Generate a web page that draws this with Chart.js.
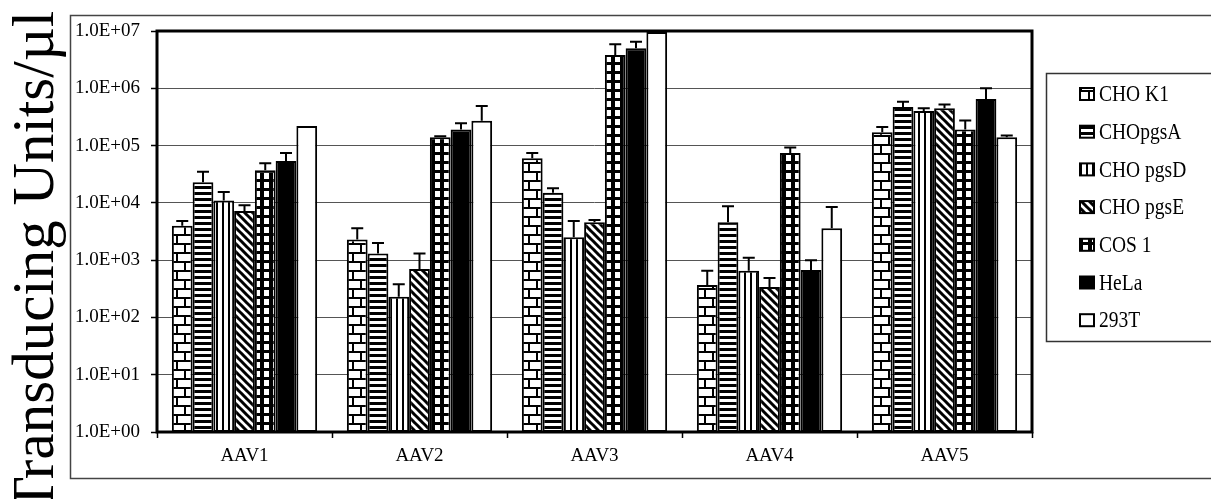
<!DOCTYPE html>
<html>
<head>
<meta charset="utf-8">
<script src="https://cdn.jsdelivr.net/npm/chart.js@4"></script>
<style>
  html, body { margin: 0; padding: 0; background: #fff; }
  #wrap { width: 1211px; height: 499px; }
</style>
</head>
<body>
<div id="wrap"><canvas id="chart" width="1211" height="499"></canvas></div>
<script>
// categories and series names
const labels = ['AAV1', 'AAV2', 'AAV3', 'AAV4', 'AAV5'];
const seriesNames = ['CHO K1', 'CHOpgsA', 'CHO pgsD', 'CHO pgsE', 'COS 1', 'HeLa', '293T'];

// bar values (transducing units / ul)
const choK1 = [4.0e3, 2.3e3, 6.0e4, 3.7e2, 1.7e5];
const choPgsA = [2.3e4, 1.3e3, 1.5e4, 4.6e3, 4.7e5];
const choPgsD = [1.1e4, 2.3e2, 2.5e3, 6.5e2, 4.0e5];
const choPgsE = [7.2e3, 7.0e2, 4.6e3, 3.4e2, 4.5e5];
const cos1 = [3.7e4, 1.4e5, 3.8e6, 7.4e4, 1.9e5];
const hela = [5.4e4, 1.9e5, 5.0e6, 6.7e2, 6.5e5];
const t293 = [2.2e5, 2.7e5, 9.6e6, 3.6e3, 1.4e5];

// top of the error bar for each bar (null = no error bar)
const choK1Err = [4.8e3, 3.6e3, 7.4e4, 6.5e2, 2.1e5];
const choPgsAErr = [3.5e4, 2.0e3, 1.8e4, 8.7e3, 5.8e5];
const choPgsDErr = [1.55e4, 3.8e2, 4.8e3, 1.1e3, 4.5e5];
const choPgsEErr = [9.1e3, 1.3e3, 5.0e3, 4.9e2, 5.2e5];
const cos1Err = [4.9e4, 1.45e5, 5.9e6, 9.3e4, 2.75e5];
const helaErr = [7.4e4, 2.45e5, 6.5e6, 1.0e3, 1.0e6];
const t293Err = [null, 4.9e5, null, 8.5e3, 1.5e5];

// y tick values (decades)
const yTicks = [1, 10, 100, 1e3, 1e4, 1e5, 1e6, 1e7];

const seriesValues = [choK1, choPgsA, choPgsD, choPgsE, cos1, hela, t293];
const seriesErrors = [choK1Err, choPgsAErr, choPgsDErr, choPgsEErr, cos1Err, helaErr, t293Err];
const patternTypes = ['brick', 'hlines', 'vlines', 'diag', 'grid', 'solid', 'white'];

// build a fill pattern for the black & white hatch styles
function makePattern(type) {
    if (type === 'solid') return '#000';
    if (type === 'white') return '#fff';
    const c = document.createElement('canvas');
    const g = c.getContext('2d');
    if (type === 'brick') {
        c.width = 16; c.height = 18;
        g.fillStyle = '#fff'; g.fillRect(0, 0, 16, 18);
        g.fillStyle = '#000';
        g.fillRect(0, 0, 16, 2);
        g.fillRect(0, 9, 16, 2);
        g.fillRect(0, 0, 2, 9);
        g.fillRect(8, 9, 2, 9);
    } else if (type === 'hlines') {
        c.width = 6; c.height = 6;
        g.fillStyle = '#fff'; g.fillRect(0, 0, 6, 6);
        g.fillStyle = '#000'; g.fillRect(0, 0, 6, 3);
    } else if (type === 'vlines') {
        c.width = 6; c.height = 6;
        g.fillStyle = '#fff'; g.fillRect(0, 0, 6, 6);
        g.fillStyle = '#000'; g.fillRect(0, 0, 2, 6);
    } else if (type === 'diag') {
        c.width = 8; c.height = 8;
        g.fillStyle = '#fff'; g.fillRect(0, 0, 8, 8);
        g.strokeStyle = '#000'; g.lineWidth = 3;
        g.beginPath();
        for (let k = -1; k <= 1; k++) {
            g.moveTo(k * 8 - 1, -1);
            g.lineTo(k * 8 + 9, 9);
        }
        g.stroke();
    } else if (type === 'grid') {
        c.width = 9; c.height = 9;
        g.fillStyle = '#000'; g.fillRect(0, 0, 9, 9);
        g.fillStyle = '#fff'; g.fillRect(3, 2, 5, 6);
    }
    return g.createPattern(c, 'repeat');
}

const fills = patternTypes.map(makePattern);

const datasets = seriesNames.map((name, i) => ({
    label: name,
    data: seriesValues[i],
    errTop: seriesErrors[i],
    backgroundColor: fills[i],
    borderColor: '#000',
    borderWidth: 2,
    borderSkipped: false,
    categoryPercentage: 0.83,
    barPercentage: 1.0
}));

function fmtTick(v) {
    const e = Math.round(Math.log10(v));
    return '1.0E+' + String(e).padStart(2, '0');
}

// background, outer frame and the big rotated y title
const framePlugin = {
    id: 'frame',
    beforeDraw(chart) {
        const ctx = chart.ctx;
        ctx.save();
        ctx.fillStyle = '#fff';
        ctx.fillRect(0, 0, chart.width, chart.height);
        ctx.strokeStyle = '#444';
        ctx.lineWidth = 1.5;
        ctx.strokeRect(70.5, 15.5, 1160, 463);
        ctx.translate(53, 262);
        ctx.rotate(-Math.PI / 2);
        ctx.fillStyle = '#000';
        ctx.font = '59px "Liberation Serif"';
        ctx.textAlign = 'center';
        ctx.textBaseline = 'alphabetic';
        ctx.fillText('Transducing Units/\u00b5l', 0, 0);
        ctx.restore();
    }
};

// error bars, thick plot border and boxed legend
const overlayPlugin = {
    id: 'overlay',
    afterDatasetsDraw(chart) {
        const ctx = chart.ctx;
        const area = chart.chartArea;
        const yScale = chart.scales.y;
        ctx.save();
        ctx.beginPath();
        ctx.rect(area.left, area.top, area.right - area.left, area.bottom - area.top);
        ctx.clip();
        ctx.strokeStyle = '#000';
        ctx.lineWidth = 2;
        chart.data.datasets.forEach((ds, i) => {
            const meta = chart.getDatasetMeta(i);
            meta.data.forEach((bar, j) => {
                const top = ds.errTop[j];
                if (top == null) return;
                const yTop = yScale.getPixelForValue(top);
                ctx.beginPath();
                ctx.moveTo(bar.x, bar.y);
                ctx.lineTo(bar.x, yTop);
                ctx.moveTo(bar.x - 6, yTop);
                ctx.lineTo(bar.x + 6, yTop);
                ctx.stroke();
            });
        });
        ctx.restore();

        ctx.save();
        ctx.strokeStyle = '#000';
        ctx.lineWidth = 3;
        ctx.strokeRect(area.left, area.top, area.right - area.left, area.bottom - area.top);

        // legend
        ctx.lineWidth = 1.5;
        ctx.strokeStyle = '#333';
        ctx.strokeRect(1046.5, 73.5, 200, 268);
        ctx.textBaseline = 'middle';
        ctx.textAlign = 'left';
        seriesNames.forEach((name, i) => {
            const cy = 94 + i * 37.7;
            ctx.fillStyle = fills[i];
            ctx.fillRect(1080, cy - 6, 14, 12);
            ctx.lineWidth = 2;
            ctx.strokeStyle = '#000';
            ctx.strokeRect(1080, cy - 6, 14, 12);
            ctx.save();
            ctx.translate(1099, cy + 1);
            ctx.scale(1, 1.2);
            ctx.fillStyle = '#000';
            ctx.font = '19.5px "Liberation Serif"';
            ctx.fillText(name, 0, 0);
            ctx.restore();
        });
        ctx.restore();
    }
};

new Chart(document.getElementById('chart'), {
    type: 'bar',
    data: { labels, datasets },
    options: {
        responsive: false,
        animation: false,
        events: [],
        layout: { padding: { left: 70, right: 179, top: 31, bottom: 0 } },
        plugins: {
            legend: { display: false },
            tooltip: { enabled: false }
        },
        scales: {
            x: {
                afterFit: (scale) => { scale.height = 67; },
                border: { display: false },
                grid: {
                    offset: true,
                    drawOnChartArea: false,
                    drawTicks: true,
                    tickLength: 6,
                    tickColor: '#000',
                    tickWidth: 1.5
                },
                ticks: {
                    color: '#000',
                    padding: 7,
                    font: { family: 'Liberation Serif', size: 19 }
                }
            },
            y: {
                type: 'logarithmic',
                min: 1,
                max: 1e7,
                afterFit: (scale) => { scale.width = 87; },
                afterBuildTicks: (scale) => {
                    scale.ticks = yTicks.map(v => ({ value: v }));
                },
                border: { display: false },
                grid: {
                    color: '#555',
                    lineWidth: 1,
                    tickColor: '#000',
                    tickLength: 6,
                    tickWidth: 1.5
                },
                ticks: {
                    color: '#000',
                    padding: 11,
                    autoSkip: false,
                    font: { family: 'Liberation Serif', size: 19 },
                    callback: (v) => fmtTick(v)
                }
            }
        }
    },
    plugins: [framePlugin, overlayPlugin]
});
</script>
</body>
</html>
